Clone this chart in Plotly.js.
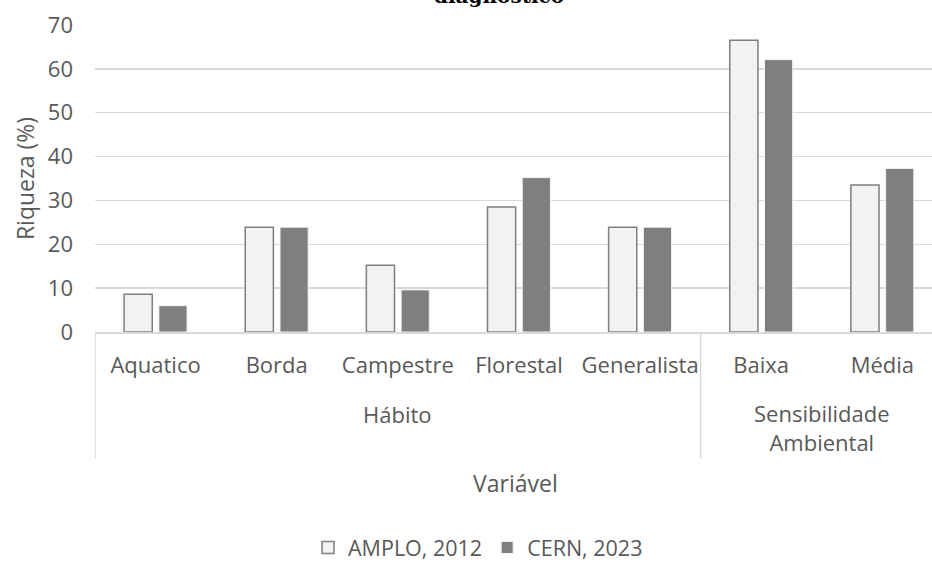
<!DOCTYPE html>
<html>
<head>
<meta charset="utf-8">
<script src="https://cdn.plot.ly/plotly-3.0.1.min.js"></script>
<style>html,body{margin:0;padding:0;background:#fff;overflow:hidden;}#chart{width:932px;height:565px;}</style>
</head>
<body>
<div id="chart"></div>
<script>
const categories = ['Aquatico', 'Borda', 'Campestre', 'Florestal', 'Generalista', 'Baixa', 'Média'];
const groups = ['Hábito', 'Hábito', 'Hábito', 'Hábito', 'Hábito', 'Sensibilidade<br>Ambiental', 'Sensibilidade<br>Ambiental'];
const amplo2012 = [8.6, 23.9, 15.2, 28.5, 23.9, 66.5, 33.5];
const cern2023 = [6.0, 23.9, 9.6, 35.2, 23.9, 62.1, 37.3];
const seriesNames = ['AMPLO, 2012', 'CERN, 2023'];
const yTicks = [0, 10, 20, 30, 40, 50, 60, 70];

const fontFam = '"Open Sans", "Noto Sans", sans-serif';
const txtColor = '#595959';

const traces = [
  {type: 'bar', name: seriesNames[0], x: categories, y: amplo2012,
   marker: {color: '#f2f2f2', line: {color: '#7f7f7f', width: 1.5}}, hoverinfo: 'skip'},
  {type: 'bar', name: seriesNames[1], x: categories, y: cern2023,
   marker: {color: '#7f7f7f', line: {color: '#f2f2f2', width: 1}}, hoverinfo: 'skip'}
];

const annotations = [];
const shapes = [];
const uniq = [];
groups.forEach((g, i) => {
  if (!uniq.length || uniq[uniq.length - 1].name !== g) uniq.push({name: g, start: i, end: i});
  else uniq[uniq.length - 1].end = i;
});
uniq.forEach(u => {
  const twoLine = u.name.indexOf('<br>') >= 0;
  annotations.push({xref: 'x', yref: 'paper', x: (u.start + u.end) / 2,
    y: twoLine ? -0.312 : -0.268, yanchor: 'middle', showarrow: false, text: u.name,
    font: {family: fontFam, size: 22, color: txtColor}, align: 'center'});
  shapes.push({type: 'line', xref: 'x', yref: 'paper', x0: u.start - 0.5, x1: u.start - 0.5,
    y0: 0, y1: -0.412, line: {color: '#d9d9d9', width: 1.5}});
});

// x-axis title
annotations.push({xref: 'paper', yref: 'paper', x: 0.502, y: -0.493, yanchor: 'middle', showarrow: false,
  text: 'Variável', font: {family: fontFam, size: 23, color: txtColor}});
// chart title (cut at the top edge, as in the reference)
annotations.push({xref: 'paper', yref: 'paper', x: 0.483, y: 1.049, yanchor: 'bottom', showarrow: false,
  text: '<b>diagnóstico</b>', font: {family: '"DejaVu Serif", "Liberation Serif", serif', size: 20, color: '#000'}});

const layout = {
  width: 932, height: 565,
  margin: {l: 95, r: 0, t: 25, b: 233},
  paper_bgcolor: '#fff', plot_bgcolor: '#fff',
  barmode: 'group', bargap: 0.426, bargroupgap: 0.19,
  font: {family: fontFam, color: txtColor, size: 22},
  showlegend: true,
  legend: {orientation: 'h', xref: 'paper', x: 0.4576, xanchor: 'center',
    yref: 'container', y: 0.031, yanchor: 'middle',
    font: {family: fontFam, size: 21.5, color: txtColor}, traceorder: 'normal'},
  xaxis: {type: 'category', range: [-0.5, 6.41], showgrid: false,
    showline: true, linecolor: '#d9d9d9', linewidth: 1.5, ticks: '', ticklabelstandoff: 13,
    tickfont: {family: fontFam, size: 22, color: txtColor}, automargin: false},
  yaxis: {range: [0, 70], tickvals: yTicks, showgrid: true, gridcolor: '#d9d9d9', gridwidth: 1.5,
    zeroline: false, showline: false, ticks: '', ticklabelstandoff: 21, automargin: false,
    tickfont: {family: fontFam, size: 22, color: txtColor},
    title: {text: 'Riqueza (%)', standoff: 6, font: {family: fontFam, size: 23, color: txtColor}}},
  annotations: annotations,
  shapes: shapes
};

Plotly.newPlot('chart', traces, layout, {staticPlot: true, displayModeBar: false});
</script>
</body>
</html>
